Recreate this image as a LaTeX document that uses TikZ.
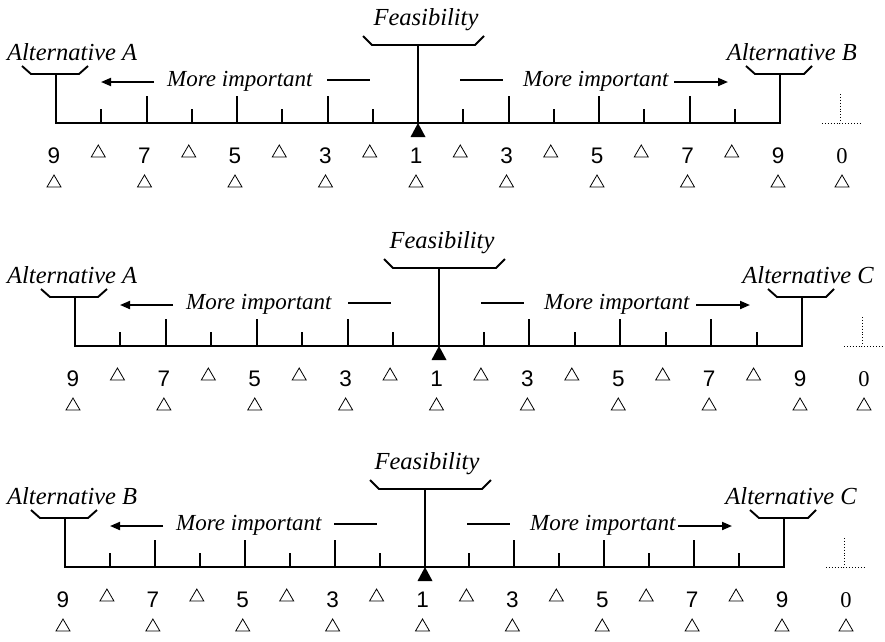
\documentclass[tikz,border=0pt]{standalone}
\usepackage{fontspec}
\setmainfont{Liberation Serif}
\newfontfamily\digitfont{Liberation Sans}
\usetikzlibrary{arrows.meta}

\tikzset{
  heavy/.style={line width=1.9pt},
  post/.style={line width=1.6pt},
  dashmark/.style={line width=1.6pt},
  arr/.style={line width=1.9pt, -{Triangle[length=10pt,width=8pt]}},
  guide/.style={line width=0.9pt, dotted},
  altlabel/.style={font=\fontsize{24.5}{24.5}\selectfont\itshape, inner sep=0pt},
  implabel/.style={font=\fontsize{23}{23}\selectfont\itshape, inner sep=0pt},
  numlabel/.style={font=\digitfont\fontsize{22.5}{22.5}\selectfont, inner sep=0pt, anchor=base},
  zerolabel/.style={font=\fontsize{22.5}{22.5}\selectfont, inner sep=0pt, anchor=base},
  opentri/.pic={\draw[line width=0.8pt, line join=miter] (-7,0) -- (7,0) -- (0,-12) -- cycle;}
}

\begin{document}
\begin{tikzpicture}[x=1pt,y=-1pt]
\useasboundingbox (0,0) rectangle (885,641);

% one rating scale per row: index / left post / right post / baseline / left / right / right label edge / Feasibility centre
\foreach \p/\L/\R/\B/\lt/\rt/\rx/\fx in
  {1/56/780/123/A/B/857/426,
   2/75/802/346/A/C/874/442,
   3/65/784/567/B/C/857/427}{
  \pgfmathsetmacro\u{(\R-\L)/16}
  \pgfmathsetmacro\C{round(\L+8*\u)}

  % base line with the two end posts
  \draw[heavy, line join=miter] ({\L},{\B-49}) -- (\L,\B) -- (\R,\B) -- ({\R},{\B-49});

  % brackets at the post tops
  \draw[heavy] ({\L-34},{\B-57}) -- ({\L-25},{\B-49}) -- ({\L+23},{\B-49}) -- ({\L+32},{\B-57});
  \draw[heavy] ({\R-34},{\B-57}) -- ({\R-25},{\B-49}) -- ({\R+24},{\B-49}) -- ({\R+32},{\B-57});

  % centre post with its bracket and pivot
  \draw[post] (\C,\B) -- ({\C},{\B-78});
  \draw[heavy] ({\C-55},{\B-87}) -- ({\C-46},{\B-78}) -- ({\C+57},{\B-78}) -- ({\C+66},{\B-87});
  \fill ({\C},{\B}) -- ({\C+7.5},{\B+14}) -- ({\C-7.5},{\B+14}) -- cycle;

  % ticks: tall at odd scale values, short in between
  \foreach \k in {1,...,15}{
    \pgfmathsetmacro\tx{round(\L+\k*\u)}
    \ifnum\k=8\relax\else
      \ifodd\k
        \draw[heavy] (\tx,\B) -- (\tx,{\B-14});
      \else
        \draw[heavy] (\tx,\B) -- (\tx,{\B-27});
      \fi
    \fi
  }

  % labels above the scale
  \node[altlabel, anchor=base west] (alt\p l) at (7,{\B-63}) {Alternative \lt};
  \node[altlabel, anchor=base east] (alt\p r) at (\rx,{\B-63}) {Alternative \rt};
  \node[altlabel, anchor=base] (feas\p) at (\fx,{\B-98}) {Feasibility};
  \node[implabel, anchor=base west] (imp\p l) at ({\L+111},{\B-37}) {More important};
  \node[implabel, anchor=base west] (imp\p r) at ({\C+105},{\B-37}) {More important};

  % direction arrows and short dashes
  \draw[arr] ({\L+98},{\B-41}) -- ({\L+45},{\B-41});
  \draw[arr] ({\R-106},{\B-41}) -- ({\R-52},{\B-41});
  \draw[dashmark] ({\C-91},{\B-43}) -- ({\C-48},{\B-43});
  \draw[dashmark] ({\C+42},{\B-43}) -- ({\C+85},{\B-43});

  % dotted zero marker
  \draw[guide] ({\R+42},\B) -- ({\R+80},\B);
  \draw[guide] ({\R+60},{\B-29}) -- ({\R+60},\B);

  % scale values and answer boxes
  \foreach \k/\n in {0/9,2/7,4/5,6/3,8/1,10/3,12/5,14/7,16/9}{
    \node[numlabel] (n\p-\k) at ({\L+\k*\u-2},{\B+40}) {\n};
    \pic at ({\L+\k*\u-2},{\B+64}) {opentri};
  }
  \foreach \k in {1,3,...,15}{
    \pic at ({\L+\k*\u-3},{\B+34}) {opentri};
  }
  \node[zerolabel] (z\p) at ({\R+62},{\B+40}) {0};
  \pic at ({\R+62},{\B+64}) {opentri};
}
\end{tikzpicture}
\end{document}
